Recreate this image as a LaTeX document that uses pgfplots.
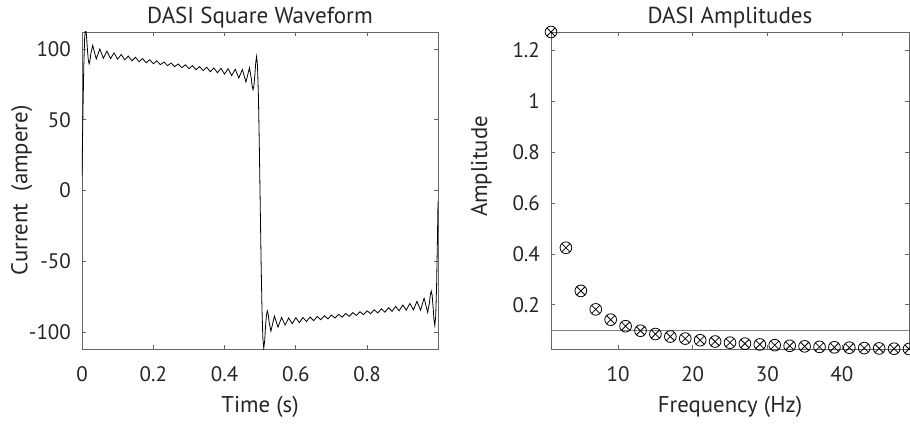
\documentclass[border=0pt]{standalone}
\usepackage{fontspec}
\setmainfont{PT Sans}
\usepackage{pgfplots}
\pgfplotsset{compat=1.18}
\definecolor{axgray}{gray}{0.4}
\definecolor{txt}{gray}{0.15}
\pgfplotsset{
  mystyle/.style={
    scale only axis,
    tick align=inside,
    xtick pos=both, ytick pos=both,
    xticklabel pos=lower, yticklabel pos=left,
    major tick length=2.7pt,
    axis line style={axgray, line width=0.5pt},
    tick style={axgray, line width=0.5pt},
    every tick label/.append style={font=\fontsize{15.75}{16}\selectfont, text=txt},
    xticklabel style={yshift=-9.3pt},
    yticklabel style={xshift=-4.8pt},
    title style={at={(axis description cs:0.5,1)}, anchor=base, yshift=0pt, font=\fontsize{17.3}{18}\selectfont, text=txt},
    xlabel style={at={(axis description cs:0.5,0)}, anchor=base, yshift=-47.8pt, font=\fontsize{17.1}{18}\selectfont, text=txt},
    ylabel style={font=\fontsize{17.1}{18}\selectfont, text=txt},
  }
}
\pgfplotstableread{
t y
0 10.0
0.0025 52.8
0.005 87.5
0.0075 108.2
0.01 114.5
0.0125 109.8
0.015 100.5
0.0175 92.6
0.02 89.5
0.0225 91.8
0.025 97.0
0.03 102.5
0.04 92.9
0.05 100.0
0.06 93.4
0.07 98.5
0.08 93.2
0.09 97.2
0.10 92.8
0.11 96.1
0.12 92.3
0.13 95.0
0.14 91.6
0.15 94.1
0.16 91.0
0.17 93.2
0.18 90.3
0.19 92.4
0.20 89.6
0.21 91.6
0.22 88.9
0.23 90.8
0.24 88.2
0.25 90.1
0.26 87.5
0.27 89.4
0.28 86.8
0.29 88.8
0.30 86.1
0.31 88.2
0.32 85.4
0.33 87.6
0.34 84.7
0.35 87.1
0.36 83.9
0.37 86.6
0.38 83.2
0.39 86.3
0.40 82.3
0.41 86.0
0.42 81.2
0.43 85.7
0.44 79.5
0.45 85.5
0.46 76.7
0.47 86.6
0.475 79.3
0.4775 73.8
0.48 71.3
0.4825 74.1
0.485 81.5
0.4875 90.3
0.49 94.7
0.4925 88.1
0.495 67.3
0.4975 32.9
0.5 -8.0
0.5025 -49.5
0.505 -83.0
0.5075 -104.5
0.51 -111.5
0.5125 -106.4
0.515 -96.1
0.5175 -88.3
0.52 -85.2
0.5225 -87.5
0.525 -92.7
0.53 -99.4
0.54 -88.7
0.55 -96.6
0.56 -89.7
0.57 -95.1
0.58 -90.0
0.59 -94.1
0.60 -89.9
0.61 -93.4
0.62 -89.7
0.63 -92.6
0.64 -89.4
0.65 -92.0
0.66 -89.0
0.67 -91.3
0.68 -88.5
0.69 -90.7
0.70 -88.0
0.71 -90.1
0.72 -87.5
0.73 -89.5
0.74 -86.9
0.75 -88.9
0.76 -86.3
0.77 -88.3
0.78 -85.7
0.79 -87.7
0.80 -85.0
0.81 -87.1
0.82 -84.3
0.83 -86.5
0.84 -83.6
0.85 -86.0
0.86 -82.8
0.87 -85.4
0.88 -81.9
0.89 -85.0
0.90 -80.9
0.91 -84.5
0.92 -79.8
0.93 -84.3
0.94 -78.3
0.95 -84.6
0.96 -76.1
0.97 -86.2
0.975 -79.1
0.9775 -73.7
0.98 -71.1
0.9825 -74.1
0.985 -81.7
0.9875 -90.9
0.99 -95.3
0.9925 -88.9
0.995 -67.9
0.9975 -33.1
0.999 -7.7
}\wavedata
\pgfplotstableread{
f a
1 1.2732
3 0.4244
5 0.2546
7 0.1819
9 0.1415
11 0.1157
13 0.0979
15 0.0849
17 0.0749
19 0.0670
21 0.0606
23 0.0554
25 0.0509
27 0.0472
29 0.0439
31 0.0411
33 0.0386
35 0.0364
37 0.0344
39 0.0326
41 0.0311
43 0.0296
45 0.0283
47 0.0271
49 0.0260
}\ampdata
\begin{document}
\begin{tikzpicture}
\useasboundingbox (0,0) rectangle (682.5pt,318.75pt);
\begin{axis}[
  mystyle,
  at={(61.5pt,57pt)}, anchor=south west,
  width=267pt, height=237.75pt,
  xmin=0, xmax=0.999, ymin=-112, ymax=112,
  xtick={0,0.2,0.4,0.6,0.8}, xticklabels={0,0.2,0.4,0.6,0.8},
  ytick={-100,-50,0,50,100}, yticklabels={-100,-50,0,50,100},
  title={DASI Square Waveform},
  xlabel={Time (s)},
  ylabel={Current\ \ (ampere)},
  ylabel style={at={(axis description cs:0,0.5)}, anchor=base, yshift=41pt},
]
\addplot[black, line width=0.6pt] table[x=t, y=y] {\wavedata};
\end{axis}
\begin{axis}[
  mystyle,
  at={(413.25pt,57pt)}, anchor=south west,
  width=268.5pt, height=237.75pt,
  xmin=1, xmax=49, ymin=0.026, ymax=1.2732,
  clip=false,
  xtick={10,20,30,40}, xticklabels={10,20,30,40},
  ytick={0.2,0.4,0.6,0.8,1,1.2}, yticklabels={0.2,0.4,0.6,0.8,1,1.2},
  title={DASI Amplitudes},
  xlabel={Frequency (Hz)},
  ylabel={Amplitude},
  ylabel style={at={(axis description cs:0,0.5)}, anchor=base, yshift=48pt, xshift=18pt},
]
\addplot[gray, line width=0.6pt] coordinates {(1,0.1) (49,0.1)};
\addplot[only marks, mark=otimes, mark size=4.4pt, black, mark options={line width=0.6pt}] table[x=f, y=a] {\ampdata};
\end{axis}
\end{tikzpicture}
\end{document}
